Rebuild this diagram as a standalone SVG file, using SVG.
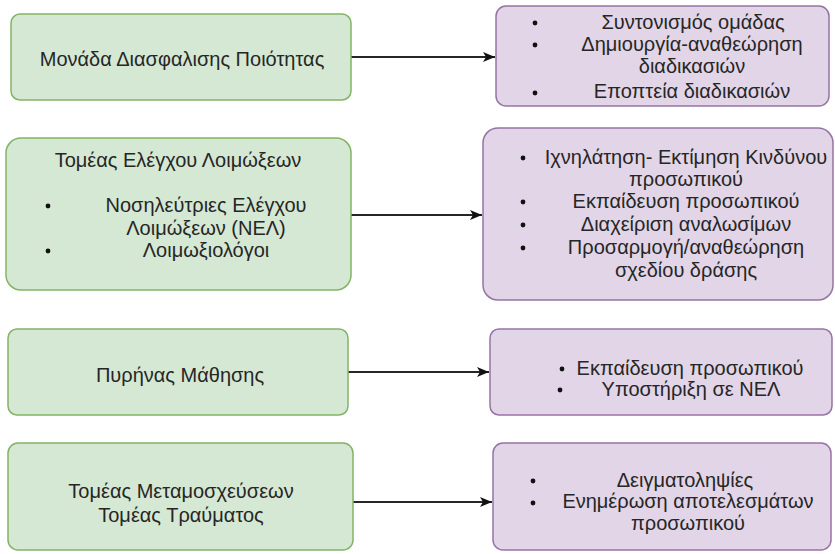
<svg xmlns="http://www.w3.org/2000/svg" width="835" height="554" viewBox="0 0 835 554">
<defs>
<style>
.g{fill:#d5e8d4;stroke:#82b366;stroke-width:1.5}
.p{fill:#e1d5e7;stroke:#9673a6;stroke-width:1.5}
text{font-family:"Liberation Sans",Arial,sans-serif;font-size:20px;fill:#262626}
.c{text-anchor:middle}
.e{stroke:#262626;stroke-width:1.8;fill:none}
</style>
<marker id="ah" viewBox="0 0 12 10" refX="12" refY="5" markerWidth="12" markerHeight="10" markerUnits="userSpaceOnUse" orient="auto">
<path d="M0,0 L12,5 L0,10 L3,5 Z" fill="#111"/>
</marker>
</defs>
<rect width="835" height="554" fill="#fff"/>
<g id="connectors">
<line class="e" x1="351" y1="57" x2="495" y2="57" marker-end="url(#ah)"/>
<line class="e" x1="351" y1="215" x2="482" y2="215" marker-end="url(#ah)"/>
<line class="e" x1="348" y1="372" x2="489" y2="372" marker-end="url(#ah)"/>
<line class="e" x1="353" y1="502" x2="492" y2="502" marker-end="url(#ah)"/>
</g>
<g id="n1">
<rect class="g" x="11" y="14" width="340" height="86" rx="9"/>
<text class="c" x="182" y="66">Μονάδα Διασφαλισης Ποιότητας</text>
</g>
<g id="n2">
<rect class="g" x="6" y="138" width="345" height="152" rx="15"/>
<text class="c" x="178" y="167">Τομέας Ελέγχου Λοιμώξεων</text>
<circle cx="48" cy="206" r="2.4" fill="#111"/>
<circle cx="48" cy="251" r="2.4" fill="#111"/>
<text class="c" x="206" y="212">Νοσηλεύτριες Ελέγχου</text>
<text class="c" x="206" y="235">Λοιμώξεων (ΝΕΛ)</text>
<text class="c" x="206" y="257">Λοιμωξιολόγοι</text>
</g>
<g id="n3">
<rect class="g" x="8" y="329" width="340" height="86" rx="9"/>
<text class="c" x="180" y="382">Πυρήνας Μάθησης</text>
</g>
<g id="n4">
<rect class="g" x="8" y="443" width="345" height="107" rx="10"/>
<text class="c" x="181" y="498">Τομέας Μεταμοσχεύσεων</text>
<text class="c" x="181" y="522">Τομέας Τραύματος</text>
</g>
<g id="n5">
<rect class="p" x="496" y="6" width="333" height="100" rx="10"/>
<circle cx="535" cy="23" r="2.4" fill="#111"/>
<circle cx="535" cy="45" r="2.4" fill="#111"/>
<circle cx="535" cy="93" r="2.4" fill="#111"/>
<text class="c" x="693" y="29">Συντονισμός ομάδας</text>
<text class="c" x="692" y="51">Δημιουργία-αναθεώρηση</text>
<text class="c" x="692" y="73">διαδικασιών</text>
<text class="c" x="692" y="98">Εποπτεία διαδικασιών</text>
</g>
<g id="n6">
<rect class="p" x="483" y="128" width="350" height="172" rx="15"/>
<circle cx="523" cy="158" r="2.4" fill="#111"/>
<circle cx="523" cy="202" r="2.4" fill="#111"/>
<circle cx="523" cy="225" r="2.4" fill="#111"/>
<circle cx="523" cy="248" r="2.4" fill="#111"/>
<text class="c" x="686" y="164">Ιχνηλάτηση- Εκτίμηση Κινδύνου</text>
<text class="c" x="686" y="186">προσωπικού</text>
<text class="c" x="686" y="208">Εκπαίδευση προσωπικού</text>
<text class="c" x="686" y="231">Διαχείριση αναλωσίμων</text>
<text class="c" x="686" y="254">Προσαρμογή/αναθεώρηση</text>
<text class="c" x="686" y="277">σχεδίου δράσης</text>
</g>
<g id="n7">
<rect class="p" x="490" y="329" width="342" height="86" rx="9"/>
<circle cx="562" cy="369" r="2.4" fill="#111"/>
<circle cx="560" cy="390" r="2.4" fill="#111"/>
<text class="c" x="690" y="375">Εκπαίδευση προσωπικού</text>
<text class="c" x="691" y="396">Υποστήριξη σε ΝΕΛ</text>
</g>
<g id="n8">
<rect class="p" x="493" y="443" width="338" height="107" rx="10"/>
<circle cx="533" cy="481" r="2.4" fill="#111"/>
<circle cx="533" cy="503" r="2.4" fill="#111"/>
<text class="c" x="685" y="487">Δειγματοληψίες</text>
<text class="c" x="688" y="508">Ενημέρωση αποτελεσμάτων</text>
<text class="c" x="688" y="530">προσωπικού</text>
</g>
</svg>
